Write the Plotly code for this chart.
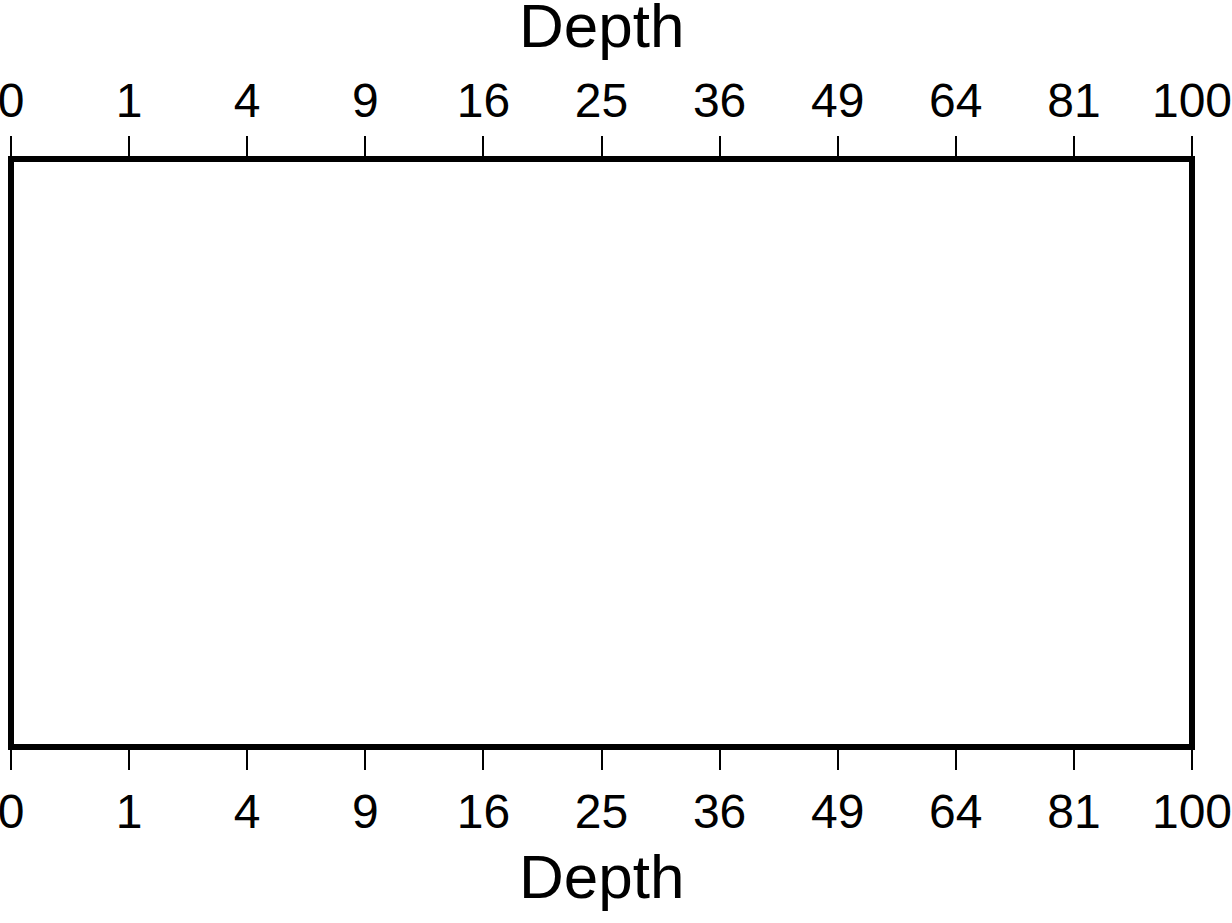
import math
import plotly.graph_objects as go

# Tick values (depth), shown on a square-root scale
tick_values = [0, 1, 4, 9, 16, 25, 36, 49, 64, 81, 100]
tick_labels = [str(v) for v in tick_values]
x_range = [0, 100]
axis_title = "Depth"

pos = [math.sqrt(v) for v in tick_values]
rng = [math.sqrt(x_range[0]), math.sqrt(x_range[1])]

FONT = "Liberation Sans, Arial, Helvetica, sans-serif"

fig = go.Figure()
# invisible traces to anchor both x axes
fig.add_trace(go.Scatter(x=rng, y=[0, 1], mode="markers", marker=dict(opacity=0),
                         hoverinfo="skip", showlegend=False, xaxis="x", yaxis="y"))
fig.add_trace(go.Scatter(x=rng, y=[0, 1], mode="markers", marker=dict(opacity=0),
                         hoverinfo="skip", showlegend=False, xaxis="x2", yaxis="y"))

common = dict(
    range=rng, tickmode="array", tickvals=pos, ticktext=tick_labels,
    ticks="outside", ticklen=22, tickwidth=2, tickcolor="black",
    showgrid=False, zeroline=False, showline=False,
    tickfont=dict(family=FONT, size=48, color="black"),
    ticklabelstandoff=0, ticklabeloverflow="allow", automargin=False,
)

title_font = dict(family=FONT, size=62, color="black")

fig.update_layout(
    width=1232, height=923,
    margin=dict(l=11, r=40, t=159, b=176, pad=0),
    paper_bgcolor="white", plot_bgcolor="white",
    showlegend=False,
    xaxis=dict(side="bottom", **common),
    xaxis2=dict(side="top", overlaying="x", matches="x", **common),
    yaxis=dict(range=[0, 1], showticklabels=False, ticks="", showgrid=False, zeroline=False,
               showline=False, automargin=False),
    shapes=[dict(type="rect", xref="paper", yref="paper", x0=0, x1=1, y0=0, y1=1,
                 line=dict(color="black", width=6), fillcolor="rgba(0,0,0,0)", layer="above")],
    annotations=[
        dict(text=axis_title, xref="paper", yref="paper", x=0.5, y=1.227,
             xanchor="center", yanchor="middle", showarrow=False, font=title_font),
        dict(text=axis_title, xref="paper", yref="paper", x=0.5, y=-0.2202,
             xanchor="center", yanchor="middle", showarrow=False, font=title_font),
    ],
)

fig.write_html("out.html")
